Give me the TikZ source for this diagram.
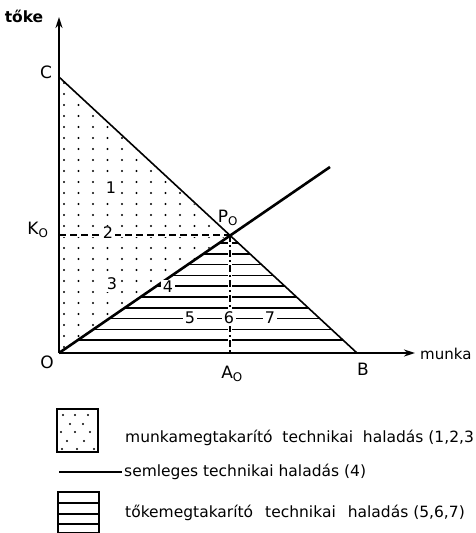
\documentclass[tikz,border=0pt]{standalone}
\usepackage{fontspec}
\setmainfont{DejaVu Sans}
\usetikzlibrary{arrows.meta}
\begin{document}
\begin{tikzpicture}[x=1pt,y=-1pt,
  axis/.style={line width=2.6pt,-{Stealth[length=11pt,width=7pt]}},
  lbl/.style={font=\fontsize{17}{17}\selectfont,inner sep=0pt},
  num/.style={font=\fontsize{16}{16}\selectfont,fill=white,inner sep=1.5pt},
  legtext/.style={font=\fontsize{15.5}{16}\selectfont,inner sep=0pt,anchor=west},
  hatch/.style={line width=1.5pt}]
\useasboundingbox (0,0) rectangle (475,533);
\coordinate (O) at (59,353);
\coordinate (C) at (59,77);
\coordinate (B) at (357,353);
\coordinate (P) at (230,235);
\coordinate (R) at (330,167);
\coordinate (K) at (59,235);
\coordinate (A) at (230,353);
\coordinate (Y) at (59,17);
\coordinate (X) at (415,353);
% dots
\begin{scope}
  \clip ([shift={(4,4)}]O) -- ([shift={(4,4)}]C) -- ([shift={(-3,0)}]P) -- ([shift={(12,-4)}]O) -- cycle;
  \foreach \i in {0,...,13}
    \foreach \j in {0,...,26}
      \fill (64+\i*14.5, 83+\j*11) circle (1.1);
\end{scope}
% hatching
\begin{scope}
  \clip (O) -- (P) -- (B) -- cycle;
  \foreach \k in {0,...,9}
    \draw[hatch] (50,243+\k*10.8) -- (370,243+\k*10.8);
\end{scope}
% dashed guides
\draw[white,line width=4pt] (K) -- (P);
\draw[white,line width=4pt] (P) -- (A);
\draw[line width=1.4pt,dash pattern=on 7pt off 4pt] (K) -- (P);
\draw[line width=1.4pt,dash pattern=on 7pt off 3pt on 2pt off 3pt] (P) -- (A);
% budget line and ray
\draw[line width=1.6pt] (C) -- (B);
\draw[line width=2.6pt] (O) -- (R);
% axes
\draw[axis] (O) -- (Y);
\draw[axis] (O) -- (X);
% labels
\node[lbl,font=\fontsize{15.5}{15.5}\selectfont\bfseries] (tk) at (24,16) {tőke};
\node[lbl] (lc) at (46,72) {C};
\node[lbl] (lk) at (38,230) {K$_{\mathrm{O}}$};
\node[lbl] (lp) at (228,218) {P$_{\mathrm{O}}$};
\node[lbl] (lo) at (47,362) {O};
\node[lbl] (la) at (232,374) {A$_{\mathrm{O}}$};
\node[lbl] (lb) at (363,369) {B};
\node[lbl,anchor=west,font=\fontsize{15}{15}\selectfont] (lm) at (420,354) {munka};
% numbers
\node[num] (n1) at (111,188) {1};
\node[num] (n2) at (108,233) {2};
\node[num] (n3) at (112,284) {3};
\node[num] (n4) at (168,287) {4};
\node[num] (n5) at (190,318) {5};
\node[num] (n6) at (229,318) {6};
\node[num] (n7) at (270,318) {7};
% legend
\draw[line width=1.6pt] (57,409) rectangle (98,452);
\foreach \p in {(63,415),(75,415),(88,415),(70,424),(83,424),(61,432),(75,432),(90,432),(67,441),(84,441),(62,449),(77,449),(94,449)}
  \fill \p circle (1.1);
\draw[line width=2.6pt] (59,472) -- (122,472);
\draw[line width=1.6pt] (58,492) rectangle (99,533);
\foreach \yy in {503,514,524}
  \draw[line width=1.4pt] (58,\yy) -- (99,\yy);
\node[legtext] (t1) at (125,438) {munkamegtakarító\ \ technikai\ \ haladás (1,2,3};
\node[legtext] (t2) at (124,472) {semleges\ technikai\ haladás (4)};
\node[legtext] (t3) at (125,513) {tőkemegtakarító\hspace{12pt}technikai\hspace{12pt}haladás (5,6,7)};
\end{tikzpicture}
\end{document}
